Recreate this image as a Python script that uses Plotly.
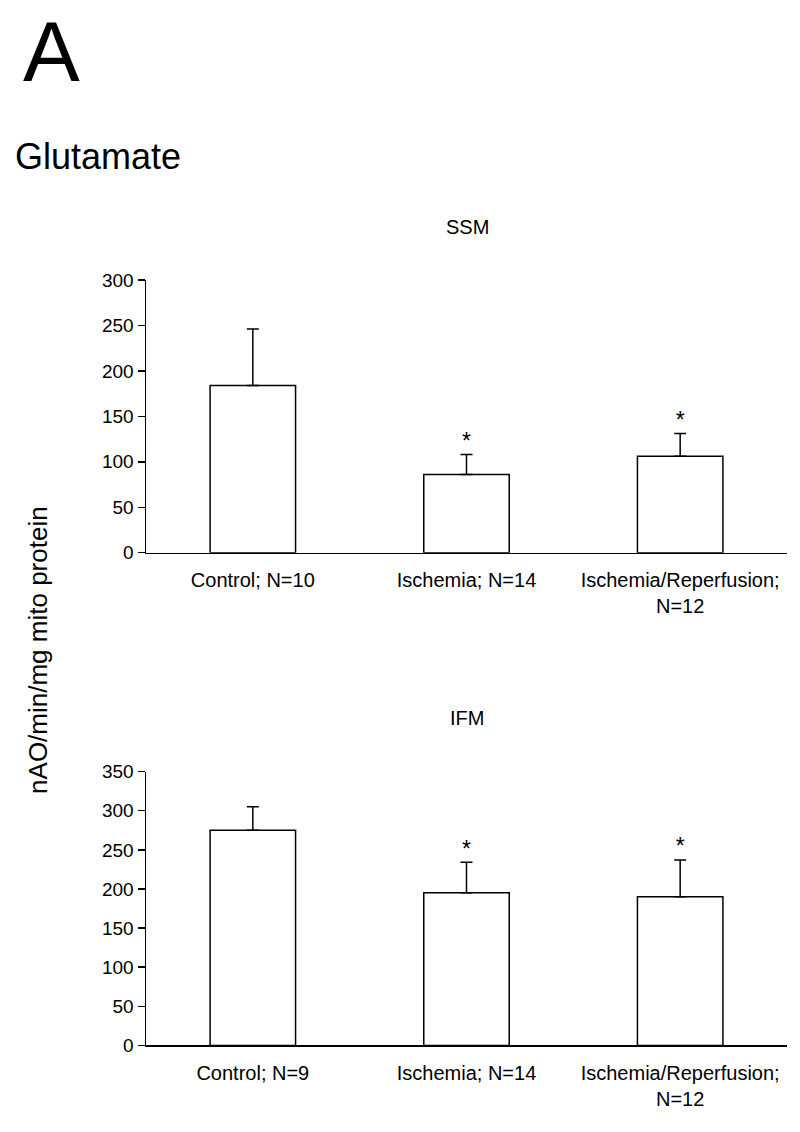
import plotly.graph_objects as go

categories_ssm = ["Control; N=10", "Ischemia; N=14", "Ischemia/Reperfusion;<br>N=12"]
means_ssm = [184, 86, 106]
errors_ssm = [62, 22, 25]
sig_ssm = [False, True, True]

categories_ifm = ["Control; N=9", "Ischemia; N=14", "Ischemia/Reperfusion;<br>N=12"]
means_ifm = [275, 195, 190]
errors_ifm = [30, 39, 47]
sig_ifm = [False, True, True]

ssm_ticks = [0, 50, 100, 150, 200, 250, 300]
ifm_ticks = [0, 50, 100, 150, 200, 250, 300, 350]

FONT = "Liberation Sans, Arial, Helvetica, sans-serif"
W, H = 800, 1132

def py(px):
    return (H - px) / H

x_dom = [146 / W, 787 / W]
top_dom = [py(553), py(275)]
bot_dom = [py(1055), py(776)]

fig = go.Figure()

def add_panel(cats, means, errs, sig, xa, ya):
    xs = [i + 0.5 for i in range(len(cats))]
    fig.add_trace(go.Bar(
        x=xs, y=means, width=0.4, xaxis=xa, yaxis=ya,
        marker=dict(color="white", line=dict(color="black", width=1.5)),
        error_y=dict(type="data", array=errs, arrayminus=[0] * len(errs), symmetric=False,
                     color="black", thickness=1.5, width=6),
        showlegend=False, hoverinfo="skip",
    ))
    fig.add_trace(go.Scatter(
        x=xs, y=[m + e for m, e in zip(means, errs)], xaxis=xa, yaxis=ya,
        mode="text", text=["*" if s else "" for s in sig], textposition="top center",
        textfont=dict(family=FONT, size=23, color="black"),
        showlegend=False, hoverinfo="skip",
    ))

add_panel(categories_ssm, means_ssm, errors_ssm, sig_ssm, "x", "y")
add_panel(categories_ifm, means_ifm, errors_ifm, sig_ifm, "x2", "y2")

xcommon = dict(range=[0, 3], showline=True, linecolor="black", linewidth=1.5,
               showgrid=False, zeroline=False, fixedrange=True)

def label_axis(cats, yref):
    return dict(**xcommon, anchor=yref, domain=x_dom, tickmode="array",
                tickvals=[i + 0.5 for i in range(len(cats))], ticktext=cats,
                ticks="outside", ticklen=9, tickcolor="rgba(0,0,0,0)",
                tickfont=dict(family=FONT, size=20, color="black"))

def tick_axis(over, yref, n):
    return dict(**xcommon, anchor=yref, overlaying=over, tickmode="array",
                tickvals=list(range(n + 1)), showticklabels=False,
                ticks="outside", ticklen=8, tickwidth=1.5, tickcolor="black")

def y_axis(ticks, dom):
    return dict(range=[ticks[0], ticks[-1]], domain=dom, tickmode="array", tickvals=ticks,
                showline=True, linecolor="black", linewidth=1.5, showgrid=False,
                zeroline=False, ticks="outside", ticklen=7, tickwidth=1.5, tickcolor="black",
                tickfont=dict(family=FONT, size=19, color="black"), fixedrange=True)

fig.update_layout(
    width=W, height=H,
    margin=dict(l=0, r=0, t=0, b=0),
    paper_bgcolor="white", plot_bgcolor="white",
    xaxis=label_axis(categories_ssm, "y"),
    xaxis2=label_axis(categories_ifm, "y2"),
    xaxis3=tick_axis("x", "y", len(categories_ssm)),
    xaxis4=tick_axis("x2", "y2", len(categories_ifm)),
    yaxis=y_axis(ssm_ticks, top_dom),
    yaxis2=y_axis(ifm_ticks, bot_dom),
    hovermode=False,
)

annots = [
    dict(text="A", x=21 / W, y=py(42), xanchor="left", yanchor="middle",
         font=dict(family=FONT, size=85, color="black")),
    dict(text="Glutamate", x=13 / W, y=py(149), xanchor="left", yanchor="middle",
         font=dict(family=FONT, size=36, color="black")),
    dict(text="SSM", x=467 / W, y=py(221), xanchor="center", yanchor="middle",
         font=dict(family=FONT, size=20, color="black")),
    dict(text="IFM", x=467 / W, y=py(721), xanchor="center", yanchor="middle",
         font=dict(family=FONT, size=20, color="black")),
    dict(text="nAO/min/mg mito protein", x=38 / W, y=py(652), xanchor="center",
         yanchor="middle", textangle=-90,
         font=dict(family=FONT, size=26, color="black")),
]
for a in annots:
    a.update(xref="paper", yref="paper", showarrow=False)
fig.update_layout(annotations=annots)

fig.write_html(
    "out.html",
    config={"displayModeBar": False, "staticPlot": True},
    post_script="document.body.style.margin='0';document.body.style.overflow='hidden';",
)
